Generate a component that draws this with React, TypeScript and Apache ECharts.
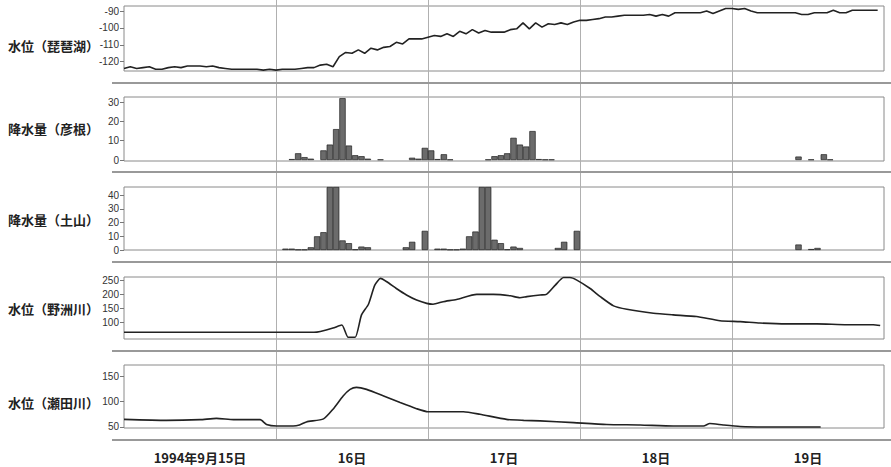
import React, { useEffect, useRef } from "react";
import * as echarts from "echarts";

// ---------- data ----------
const dayLabels = ["1994年9月15日", "16日", "17日", "18日", "19日"];
const panelTitles = ["水位（琵琶湖）", "降水量（彦根）", "降水量（土山）", "水位（野洲川）", "水位（瀬田川）"];

// hourly lake level (hour 0..119)
const lakeLevel = [
  -124, -123, -124, -123.5, -123, -124.5, -124.5, -123.5, -123, -123.5,
  -122.5, -122.5, -122.5, -123, -122.5, -123.5, -124, -124.5, -124.5, -124.5,
  -124.5, -124.5, -125, -124.5, -125, -124.5, -124.5, -124.5, -124, -123.5,
  -123.5, -122, -121.5, -123, -117, -114.5, -115, -113, -115, -112,
  -113, -111.5, -111, -108.5, -109.5, -106.5, -106.5, -106.5, -105.5, -104.5,
  -105, -103.5, -105, -102, -103.5, -101, -103, -101.5, -102.5, -102.5,
  -102.5, -101, -100.5, -97, -100.5, -97, -99.5, -97.5, -98, -97,
  -98, -96.5, -95.5, -95.5, -95, -94.5, -93.5, -93.5, -93, -92.5,
  -92.5, -92.5, -92.5, -92, -93, -92, -93, -91, -91, -91,
  -91, -91, -90, -91.5, -90, -88.5, -88.5, -89, -88.5, -90,
  -91, -91, -91, -91, -91, -91, -91, -92, -92, -91,
  -91, -91, -89.5, -91, -91, -89.5, -89.5, -89.5, -89.5, -89.5,
];

const hikoneHours = [26, 27, 28, 29, 31, 32, 33, 34, 35, 36, 37, 38, 40, 45, 46, 47, 48, 49, 50, 51, 57, 58, 59, 60, 61, 62, 63, 64, 65, 66, 67, 106, 108, 110, 111];
const hikoneRain = [0.5, 3.5, 1.5, 0.7, 5, 8, 16, 32, 7.5, 2.5, 2, 0.7, 0.3, 1.2, 0.7, 6.3, 5, 0.5, 3, 0.3, 0.3, 2, 2.5, 3.5, 11.5, 8, 7, 15, 0.5, 0.3, 0.3, 1.8, 0.3, 3, 0.3];

const tsuchiHours = [25, 26, 27, 28, 29, 30, 31, 32, 33, 34, 35, 36, 37, 38, 44, 45, 47, 49, 50, 51, 52, 53, 54, 55, 56, 57, 58, 59, 60, 61, 62, 68, 69, 71, 106, 108, 109];
const tsuchiRain = [1, 1, 0.3, 0.3, 2, 10, 13, 46, 46, 7, 5, 0.5, 2.5, 2, 2, 6, 14, 1, 1, 0.3, 0.3, 1, 10, 13.5, 46, 46, 7.5, 5, 0.5, 2.5, 1.5, 1.5, 6, 14, 4, 0.7, 1.5];

const yasuHours = [0, 30, 31, 33, 34.4, 35.4, 36.5, 37.5, 38.6, 39.6, 40.5, 41.5, 43, 44.6, 46.2, 47.8, 48.8, 50.4, 52.5, 55.7, 58.3, 61, 62.5, 63.6, 65.7, 66.7, 68.1, 69.4, 70.4, 71.5, 73.6, 75.2, 77.3, 79.4, 83.6, 86.7, 90.4, 94.1, 97.3, 100.4, 104.6, 109.4, 114.1, 118.3, 119.4];
const yasuLevel = [64, 64, 67, 79, 90, 46, 46, 126, 164, 232, 256, 244, 220, 197, 179, 167, 164, 173, 181, 199, 199, 194, 187, 191, 197, 199, 232, 259, 259, 250, 220, 191, 158, 146, 132, 126, 120, 105, 102, 97, 94, 94, 91, 91, 88];

const setaHours = [0, 6.7, 12, 14.6, 17.3, 21.5, 22.5, 24.1, 26.7, 27.7, 28.8, 31.5, 33, 34.6, 35.7, 36.7, 38.3, 41, 43.6, 46.2, 48, 51, 53.6, 56.2, 60.4, 63.1, 65.7, 71, 76.2, 81.5, 86.7, 91.5, 92.5, 94.6, 97.3, 102.5, 110];
const setaLevel = [65, 63, 64.4, 67, 64.4, 64.4, 55, 52, 52, 54, 60, 66, 85, 111, 124, 128, 124, 111, 98, 86, 80, 80, 80, 75, 65, 63, 62, 58.5, 55, 54, 52, 52, 57, 54, 51, 50, 50];

const lakeTicks = [-120, -110, -100, -90];
const hikoneTicks = [0, 10, 20, 30];
const tsuchiTicks = [0, 10, 20, 30, 40];
const yasuTicks = [100, 150, 200, 250];
const setaTicks = [50, 100, 150];

// ---------- layout ----------
const LEFT = 124;
const RIGHT = 7;
const HOURS = 120;
const panelLayout = [
  { top: 6, height: 65, min: -125.5, max: -87, ticks: lakeTicks, titleY: 45, sepY: 83 },
  { top: 97, height: 64, min: -0.5, max: 32.6, ticks: hikoneTicks, titleY: 128, sepY: 172 },
  { top: 187, height: 63, min: 0, max: 46, ticks: tsuchiTicks, titleY: 219, sepY: 262 },
  { top: 277, height: 62, min: 40, max: 261, ticks: yasuTicks, titleY: 308, sepY: 351 },
  { top: 365, height: 63, min: 48, max: 172, ticks: setaTicks, titleY: 402, sepY: 440 },
];

const FONT_NUM = "'Liberation Sans Narrow', 'Liberation Sans', Arial, sans-serif";
const FONT_JP = "'Noto Sans CJK JP', 'Noto Sans', sans-serif";

export default function App() {
  const ref = useRef<HTMLDivElement>(null);

  useEffect(() => {
    document.body.style.margin = "0";
    if (!ref.current) return;
    const chart = echarts.init(ref.current, undefined, { renderer: "svg" });

    const grids: any[] = panelLayout.map((p) => ({
      left: LEFT,
      right: RIGHT,
      top: p.top,
      height: p.height,
      show: true,
      borderColor: "#8a8a8a",
      borderWidth: 1,
      backgroundColor: "transparent",
    }));
    grids.push({ left: LEFT, right: RIGHT, top: 0, height: 440, show: false });

    const xAxes: any[] = panelLayout.map((_, i) => ({
      type: "value",
      gridIndex: i,
      min: 0,
      max: HOURS,
      show: false,
    }));
    xAxes.push({
      type: "category",
      gridIndex: 5,
      data: dayLabels,
      boundaryGap: true,
      axisLine: { show: false },
      axisTick: { show: false },
      axisLabel: {
        fontSize: 13,
        fontWeight: "bold",
        color: "#222",
        fontFamily: FONT_JP,
        margin: 11,
        interval: 0,
      },
      splitLine: {
        show: true,
        interval: 0,
        showMinLine: false,
        showMaxLine: false,
        lineStyle: { color: "#b0b0b0", width: 1 },
      },
    });

    const yAxes: any[] = panelLayout.map((p, i) => ({
      type: "value",
      gridIndex: i,
      min: p.min,
      max: p.max,
      axisLine: { show: false },
      splitLine: { show: false },
      axisTick: {
        show: true,
        customValues: p.ticks,
        length: 4,
        lineStyle: { color: "#777" },
      },
      axisLabel: {
        customValues: p.ticks,
        fontSize: 10,
        color: "#333",
        fontFamily: FONT_NUM,
        margin: 5,
      },
    }));
    yAxes.push({ type: "value", gridIndex: 5, show: false, min: 0, max: 1 });

    const lineStyle = { color: "#222", width: 1.6 };
    const barStyle = { color: "#6b6b6b", borderColor: "#222", borderWidth: 0.7 };
    const barWidth = (891 - LEFT - RIGHT) / HOURS;

    const series: any[] = [
      {
        type: "line",
        xAxisIndex: 0,
        yAxisIndex: 0,
        symbol: "none",
        lineStyle,
        data: lakeLevel.map((v, h) => [h, v]),
      },
      {
        type: "bar",
        xAxisIndex: 1,
        yAxisIndex: 1,
        barWidth,
        itemStyle: barStyle,
        data: hikoneHours.map((h, i) => [h + 0.5, hikoneRain[i]]),
      },
      {
        type: "bar",
        xAxisIndex: 2,
        yAxisIndex: 2,
        barWidth,
        itemStyle: barStyle,
        data: tsuchiHours.map((h, i) => [h + 0.5, tsuchiRain[i]]),
      },
      {
        type: "line",
        xAxisIndex: 3,
        yAxisIndex: 3,
        symbol: "none",
        smooth: 0.2,
        lineStyle,
        data: yasuHours.map((h, i) => [h, yasuLevel[i]]),
      },
      {
        type: "line",
        xAxisIndex: 4,
        yAxisIndex: 4,
        symbol: "none",
        smooth: 0.2,
        lineStyle,
        data: setaHours.map((h, i) => [h, setaLevel[i]]),
      },
    ];

    const graphics: any[] = [];
    panelLayout.forEach((p, i) => {
      graphics.push({
        type: "line",
        shape: { x1: 112, y1: p.sepY, x2: 891, y2: p.sepY },
        style: { stroke: "#999", lineWidth: 2 },
        z: 10,
      });
      graphics.push({
        type: "text",
        x: 8,
        y: p.titleY,
        style: {
          text: panelTitles[i],
          fontSize: 13,
          fontWeight: "bold",
          fontFamily: FONT_JP,
          fill: "#222",
          verticalAlign: "middle",
          align: "left",
        },
        z: 10,
      });
    });

    chart.setOption({
      animation: false,
      backgroundColor: "#fff",
      grid: grids,
      xAxis: xAxes,
      yAxis: yAxes,
      series,
      graphic: graphics,
    });

    return () => chart.dispose();
  }, []);

  return <div ref={ref} style={{ width: 891, height: 467 }} />;
}
